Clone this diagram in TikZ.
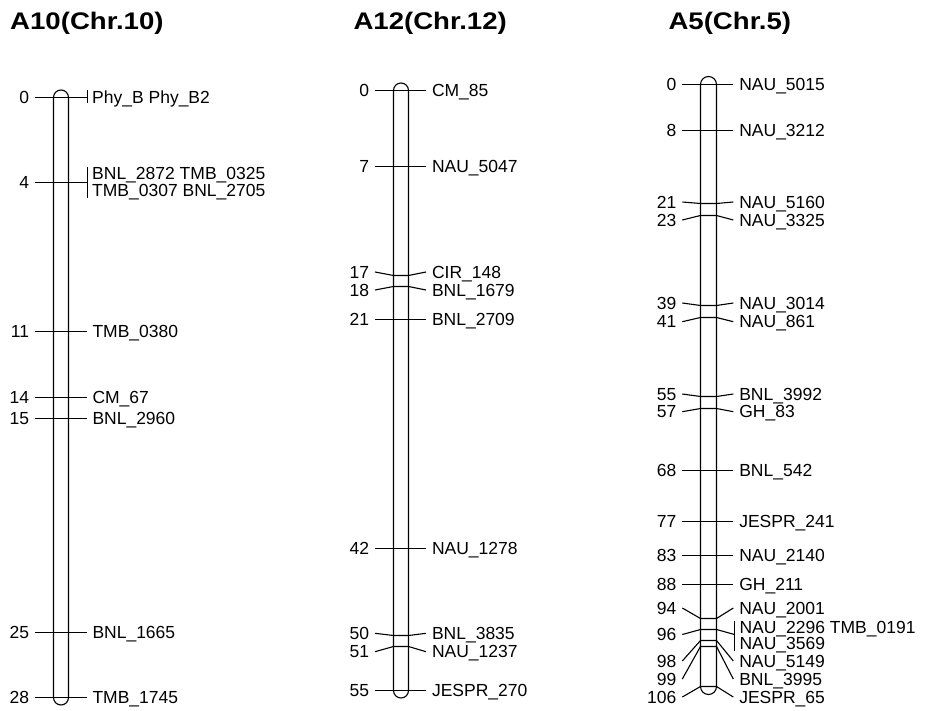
\documentclass[tikz,border=0pt]{standalone}
\usepackage{fontspec}
\setmainfont{Liberation Sans}
\usepackage{graphicx}
\tikzset{
  tick/.style={line width=1.1pt, black},
  chrom/.style={line width=1.1pt, black},
  num/.style={anchor=base east, inner sep=0pt, font=\fontsize{17.5}{17.5}\selectfont},
  lab/.style={anchor=base west, inner sep=0pt, font=\fontsize{17.5}{17.5}\selectfont},
  ttl/.style={anchor=base west, inner sep=0pt, font=\fontsize{24}{24}\selectfont\bfseries},
}
% x positions per chromosome: \XL left tick, \XBL bar left, \XBR bar right, \XR right tick
\newcommand\mkr[5]{%
  \coordinate (#1a) at (\XL,#3);
  \coordinate (#1b) at (\XBL,#2);
  \coordinate (#1c) at (\XBR,#2);
  \coordinate (#1d) at (\XR,#3);
  \draw[tick] (#1a) -- (#1b) -- (#1c) -- (#1d);
  \node[num] (#1n) at ([xshift=-5.8pt,yshift=-6.27pt]#1a) {#4};
  \node[lab] (#1t) at ([xshift=5.8pt,yshift=-6.27pt]#1d) {#5};
}
\newcommand\mkrb[4]{%
  \coordinate (#1a) at (\XL,#3);
  \coordinate (#1b) at (\XBL,#2);
  \coordinate (#1c) at (\XBR,#2);
  \coordinate (#1d) at (\XR,#3);
  \draw[tick] (#1a) -- (#1b) -- (#1c) -- (#1d);
  \node[num] (#1n) at ([xshift=-5.8pt,yshift=-6.27pt]#1a) {#4};
}
\begin{document}
\begin{tikzpicture}[x=1pt,y=-1pt]
\useasboundingbox (0,0) rectangle (926,711);

% titles
\node[ttl] (title10) at (10,30) {\scalebox{1.15}[1]{A10(Chr.10)}};
\node[ttl] (title12) at (353.3,30) {\scalebox{1.15}[1]{A12(Chr.12)}};
\node[ttl] (title5) at (668.3,30) {\scalebox{1.15}[1]{A5(Chr.5)}};

% ---------------- A10 ----------------
\draw[chrom] (53.5,97.5) arc[start angle=180,end angle=0,radius=7.5pt] -- (68.5,697.5)
  arc[start angle=0,end angle=-180,radius=7.5pt] -- cycle;
\def\XL{35}\def\XBL{53.5}\def\XBR{68.5}\def\XR{87.5}
\mkrb{p0}{97.5}{97.5}{0}
\draw[tick] (87.5,90) -- (87.5,103.5);
\node[lab] (p0t) at (92,103.77) {Phy\_B Phy\_B2};
\mkrb{p4}{182.5}{182.5}{4}
\draw[tick] (87.5,167) -- (87.5,198);
\node[lab] (p4t1) at (92,179.5) {BNL\_2872 TMB\_0325};
\node[lab] (p4t2) at (92,197) {TMB\_0307 BNL\_2705};
\def\XR{86.5}
\mkr{p11}{331.5}{331.5}{11}{TMB\_0380}
\mkr{p14}{397.5}{397.5}{14}{CM\_67}
\mkr{p15}{418.5}{418.5}{15}{BNL\_2960}
\mkr{p25}{632.5}{632.5}{25}{BNL\_1665}
\mkr{p28}{697.5}{697.5}{28}{TMB\_1745}

% ---------------- A12 ----------------
\draw[chrom] (393.5,90.5) arc[start angle=180,end angle=0,radius=7.5pt] -- (408.5,690.5)
  arc[start angle=0,end angle=-180,radius=7.5pt] -- cycle;
\def\XL{375}\def\XBL{393.5}\def\XBR{408.5}\def\XR{426}
\mkr{q0}{90.5}{90.5}{0}{CM\_85}
\mkr{q7}{166.5}{166.5}{7}{NAU\_5047}
\mkr{q17}{275.5}{272}{17}{CIR\_148}
\mkr{q18}{286.5}{290}{18}{BNL\_1679}
\mkr{q21}{319.5}{319.5}{21}{BNL\_2709}
\mkr{q42}{548.5}{548.5}{42}{NAU\_1278}
\mkr{q50}{635.5}{633.3}{50}{BNL\_3835}
\mkr{q51}{646.5}{651.7}{51}{NAU\_1237}
\mkr{q55}{690.5}{690.5}{55}{JESPR\_270}

% ---------------- A5 ----------------
\draw[chrom] (700.5,84.5) arc[start angle=180,end angle=0,radius=8pt] -- (716.5,686.5)
  arc[start angle=0,end angle=-180,radius=8pt] -- cycle;
\def\XL{682.3}\def\XBL{700.5}\def\XBR{716.5}\def\XR{733.3}
\mkr{r0}{84.5}{84.5}{0}{NAU\_5015}
\mkr{r8}{130.5}{130.5}{8}{NAU\_3212}
\mkr{r21}{203.5}{202}{21}{NAU\_5160}
\mkr{r23}{215.5}{220}{23}{NAU\_3325}
\mkr{r39}{305.5}{303}{39}{NAU\_3014}
\mkr{r41}{317.5}{321.7}{41}{NAU\_861}
\mkr{r55}{396.5}{394}{55}{BNL\_3992}
\mkr{r57}{408.5}{411.7}{57}{GH\_83}
\mkr{r68}{470.5}{470.5}{68}{BNL\_542}
\mkr{r77}{521.5}{521.5}{77}{JESPR\_241}
\mkr{r83}{555.5}{555.5}{83}{NAU\_2140}
\mkr{r88}{584.5}{584.5}{88}{GH\_211}
\mkr{r94}{618.5}{608}{94}{NAU\_2001}
\def\XR{734.5}
\mkrb{r96}{629.5}{634.5}{96}
\draw[tick] (734.5,620.7) -- (734.5,650.7);
\node[lab] (r96t1) at (739.3,633) {NAU\_2296 TMB\_0191};
\node[lab] (r96t2) at (739.3,649.6) {NAU\_3569};
\def\XR{733.3}
\mkr{r98}{640.5}{661}{98}{NAU\_5149}
\mkr{r99}{646.5}{679}{99}{BNL\_3995}
\mkr{r106}{686.5}{697}{106}{JESPR\_65}
\end{tikzpicture}
\end{document}
